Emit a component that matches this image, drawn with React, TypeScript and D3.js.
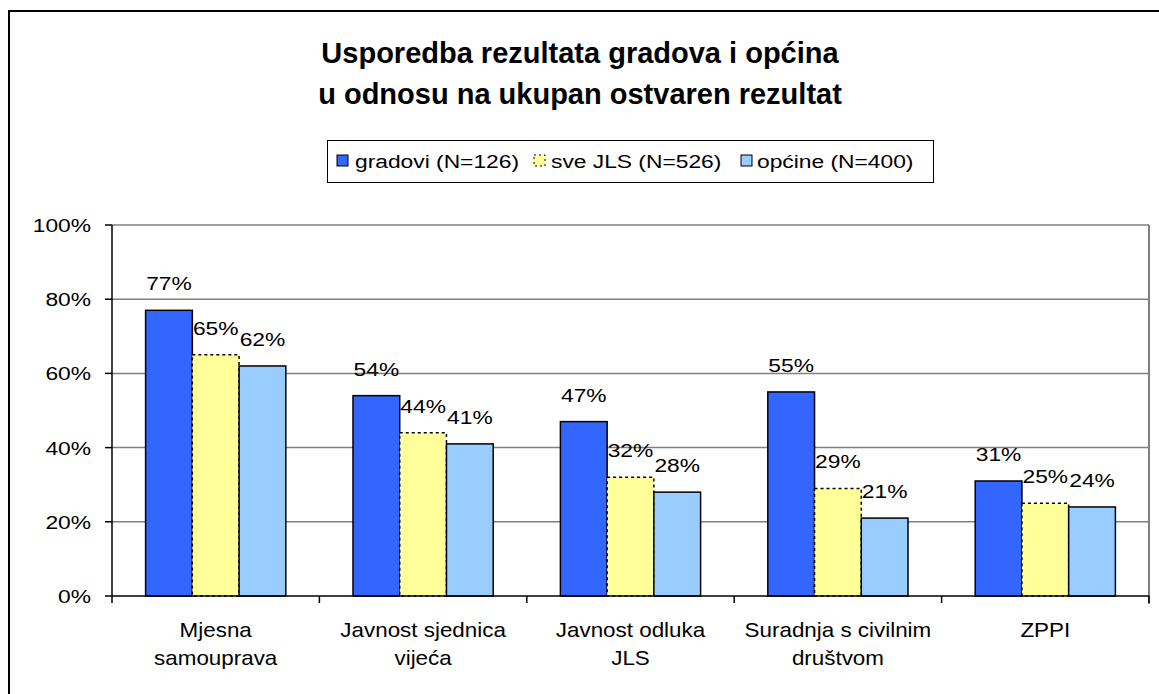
import React from "react";
import * as d3 from "d3";

const categories = [
  ["Mjesna", "samouprava"],
  ["Javnost sjednica", "vijeća"],
  ["Javnost odluka", "JLS"],
  ["Suradnja s civilnim", "društvom"],
  ["ZPPI"],
];
const seriesNames = ["gradovi (N=126)", "sve JLS (N=526)", "općine (N=400)"];
const gradovi = [77, 54, 47, 55, 31];
const sveJLS = [65, 44, 32, 29, 25];
const opcine = [62, 41, 28, 21, 24];
const yTicks = [0, 20, 40, 60, 80, 100];

const colors = ["#3366FF", "#FFFF99", "#99CCFF"];
const FONT = "Arial, 'Liberation Sans', sans-serif";

function SText({ x, y, children, anchor = "middle", size = 19, sx = 1.2, weight = "normal" }: any) {
  return (
    <g transform={`translate(${x},${y}) scale(${sx},1)`}>
      <text x={0} y={0} textAnchor={anchor} fontSize={size} fontFamily={FONT} fontWeight={weight} fill="#000">
        {children}
      </text>
    </g>
  );
}

export default function App() {
  const W = 1159, H = 694;
  const left = 112, right = 1149, top = 225, bottom = 596;
  const series = [gradovi, sveJLS, opcine];
  const x0 = d3.scaleBand<number>().domain(d3.range(categories.length)).range([left, right]).padding(0);
  const bw = x0.bandwidth();
  const x1 = d3.scaleBand<number>().domain([0, 1, 2]).range([bw * 0.162, bw * 0.838]).padding(0);
  const y = d3.scaleLinear().domain([0, 100]).range([bottom, top]);

  const legendItems = [
    { sq: 337, tx: 355 },
    { sq: 534, tx: 551 },
    { sq: 741, tx: 757 },
  ];

  return (
    <svg width={W} height={H} style={{ position: "absolute", left: 0, top: 0 }}>
      <rect x={0} y={0} width={W} height={H} fill="#fff" />
      <rect x={9} y={11} width={W + 20} height={H + 20} fill="#fff" stroke="#000" strokeWidth={2} />
      {/* title */}
      <text x={580} y={63} textAnchor="middle" fontSize={29} fontWeight="bold" fontFamily={FONT}>
        Usporedba rezultata gradova i općina
      </text>
      <text x={580} y={104} textAnchor="middle" fontSize={29} fontWeight="bold" fontFamily={FONT}>
        u odnosu na ukupan ostvaren rezultat
      </text>
      {/* legend */}
      <rect x={327.5} y={140.5} width={606} height={42} fill="#fff" stroke="#000" strokeWidth={1} />
      {seriesNames.map((n, i) => (
        <g key={n}>
          <rect
            x={legendItems[i].sq}
            y={155}
            width={11}
            height={11}
            fill={colors[i]}
            stroke={i === 1 ? "#000" : "#000"}
            strokeWidth={1}
            strokeDasharray={i === 1 ? "2,3" : undefined}
          />
          <SText x={legendItems[i].tx} y={168} anchor="start">
            {n}
          </SText>
        </g>
      ))}
      {/* gridlines */}
      {yTicks.slice(1).map((t) => (
        <line key={t} x1={left} x2={right} y1={y(t)} y2={y(t)} stroke="#808080" strokeWidth={1.5} />
      ))}
      <line x1={right} x2={right} y1={top} y2={bottom + 8} stroke="#808080" strokeWidth={2} />
      {/* bars */}
      {categories.map((c, ci) => (
        <g key={ci} transform={`translate(${x0(ci)},0)`}>
          {series.map((s, si) => (
            <rect
              key={si}
              x={x1(si)}
              y={y(s[ci])}
              width={x1.bandwidth()}
              height={bottom - y(s[ci])}
              fill={colors[si]}
              stroke="#000"
              strokeWidth={1.5}
              strokeDasharray={si === 1 ? "3,3" : undefined}
            />
          ))}
          {series.map((s, si) => (
            <SText key={"l" + si} x={(x1(si) as number) + x1.bandwidth() / 2} y={y(s[ci]) - 20}>
              {`${Math.round(s[ci])}%`}
            </SText>
          ))}
        </g>
      ))}
      {/* axes */}
      <line x1={left} x2={left} y1={top} y2={bottom} stroke="#000" strokeWidth={1.5} />
      <line x1={left} x2={right} y1={bottom} y2={bottom} stroke="#000" strokeWidth={1.5} />
      {yTicks.map((t) => (
        <g key={t}>
          <line x1={left - 7} x2={left} y1={y(t)} y2={y(t)} stroke="#000" strokeWidth={1.5} />
          <SText x={91} y={y(t) + 7} anchor="end">{`${t}%`}</SText>
        </g>
      ))}
      {d3.range(categories.length + 1).map((i) => (
        <line key={i} x1={left + i * bw} x2={left + i * bw} y1={bottom} y2={bottom + 7} stroke="#000" strokeWidth={1.5} />
      ))}
      {categories.map((c, ci) =>
        c.map((line, li) => (
          <SText key={ci + "-" + li} x={(x0(ci) as number) + bw / 2} y={637 + li * 28} sx={1.12} size={20}>
            {line}
          </SText>
        ))
      )}
    </svg>
  );
}
